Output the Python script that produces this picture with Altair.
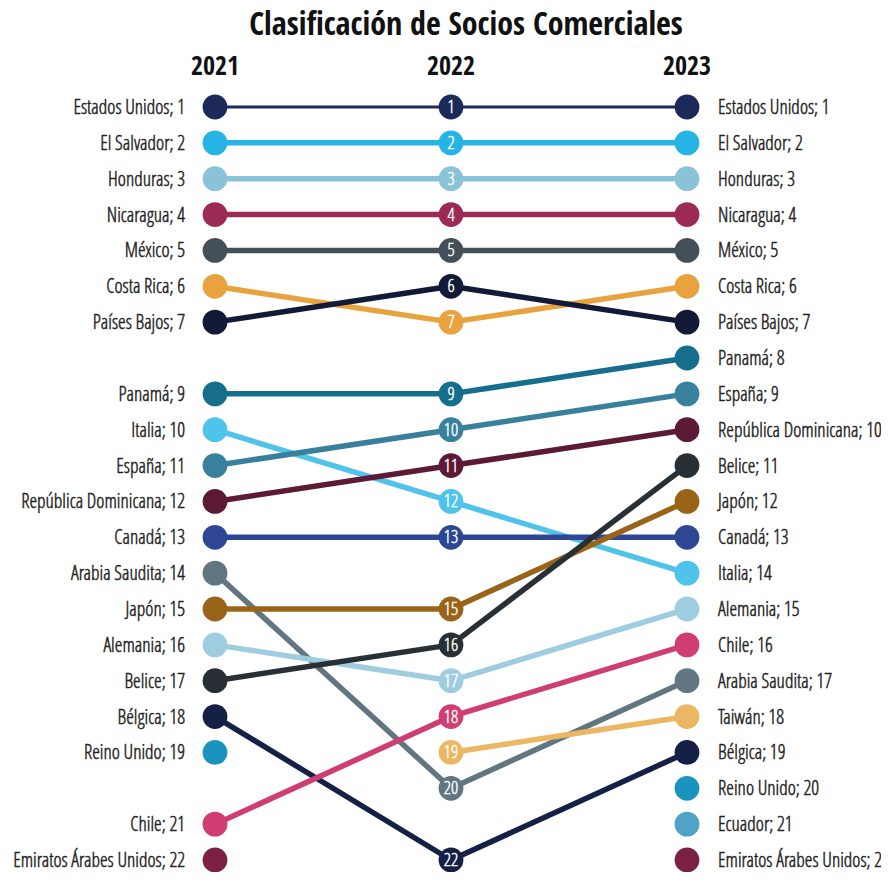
import altair as alt
import pandas as pd

countries = [
    "Estados Unidos", "El Salvador", "Honduras", "Nicaragua", "México",
    "Costa Rica", "Países Bajos", "Panamá", "Italia", "España",
    "República Dominicana", "Canadá", "Arabia Saudita", "Japón", "Alemania",
    "Belice", "Bélgica", "Reino Unido", "Chile", "Emiratos Árabes Unidos",
    "Taiwán", "Ecuador",
]
years = [2021, 2022, 2023]
rank_2021 = [1, 2, 3, 4, 5, 6, 7, 9, 10, 11, 12, 13, 14, 15, 16, 17, 18, 19, 21, 22, None, None]
rank_2022 = [1, 2, 3, 4, 5, 7, 6, 9, 12, 10, 11, 13, 20, 15, 17, 16, 22, None, 18, None, 19, None]
rank_2023 = [1, 2, 3, 4, 5, 6, 7, 8, 14, 9, 10, 13, 17, 12, 15, 11, 19, 20, 16, 22, 18, 21]

palette = [
    "#1c2a5a", "#25b4e3", "#8ac2d8", "#9b2a55", "#434f59",
    "#e8a33e", "#111a36", "#156e8c", "#4fc3ea", "#38809c",
    "#5c1a36", "#2d4795", "#627682", "#9a6418", "#9fcde0",
    "#283036", "#142046", "#1a93bf", "#cf3d73", "#7b2143",
    "#ebb762", "#4fa3c6",
]

FONT_B = "Open Sans Condensed, Liberation Sans Narrow, DejaVu Sans Condensed, sans-serif"
FONT = "Open Sans Condensed Light, Liberation Sans Narrow, sans-serif"
TXT = "#222222"

ranks = [rank_2021, rank_2022, rank_2023]
pts = []
for i, c in enumerate(countries):
    for y, r in zip(years, ranks):
        if r[i] is not None:
            pts.append({"country": c, "year": y, "rank": r[i],
                        "label": f"{c}; {r[i]}", "num": str(r[i])})
points = pd.DataFrame(pts)

segs = []
for i, c in enumerate(countries):
    for k in range(len(years) - 1):
        a, b = ranks[k][i], ranks[k + 1][i]
        if a is not None and b is not None:
            sid = f"{c}-{k}"
            segs.append({"country": c, "seg": sid, "year": years[k], "rank": a})
            segs.append({"country": c, "seg": sid, "year": years[k + 1], "rank": b})
segments = pd.DataFrame(segs)
year_df = pd.DataFrame({"year": years, "ylabel": [str(y) for y in years]})

xs = alt.Scale(domain=[2021, 2023], zero=False, nice=False)
ys = alt.Scale(domain=[1, 22], zero=False, nice=False, reverse=True)
cs = alt.Scale(domain=countries, range=palette)

x_enc = alt.X("year:Q", scale=xs, axis=None)
y_enc = alt.Y("rank:Q", scale=ys, axis=None)

heads = alt.Chart(year_df).mark_text(
    font=FONT_B, fontSize=26, fontWeight="bold", color="#111111",
    baseline="middle", align="center"
).encode(x=x_enc, y=alt.value(-40), text="ylabel:N")

lines = alt.Chart(segments).mark_line().encode(
    x=x_enc, y=y_enc,
    detail="seg:N",
    color=alt.Color("country:N", scale=cs, legend=None),
    strokeWidth=alt.condition(alt.datum.country == "Estados Unidos",
                              alt.value(3), alt.value(5.5)),
)

dots = alt.Chart(points).mark_circle(size=615, opacity=1).encode(
    x=x_enc, y=y_enc,
    color=alt.Color("country:N", scale=cs, legend=None),
)

nums = alt.Chart(points).transform_filter(alt.datum.year == 2022).mark_text(
    font=FONT, fontSize=18, color="white", stroke="white", strokeWidth=0.4,
    baseline="middle", align="center", dy=1
).encode(x=x_enc, y=y_enc, text="num:N")

left = alt.Chart(points).transform_filter(alt.datum.year == 2021).mark_text(
    font=FONT, fontSize=19.5, color=TXT, stroke=TXT, strokeWidth=0.45,
    baseline="middle", align="right", dx=-30, dy=1
).encode(x=x_enc, y=y_enc, text="label:N")

right = alt.Chart(points).transform_filter(alt.datum.year == 2023).mark_text(
    font=FONT, fontSize=19.5, color=TXT, stroke=TXT, strokeWidth=0.45,
    baseline="middle", align="left", dx=31, dy=1
).encode(x=x_enc, y=y_enc, text="label:N")

chart = alt.layer(heads, lines, dots, nums, left, right).properties(
    width=472, height=753,
    autosize=alt.AutoSizeParams(type="none"),
    padding={"left": 207, "top": 99, "right": 194, "bottom": 12},
    title=alt.TitleParams("Clasificación de Socios Comerciales", font=FONT_B,
                          fontSize=32, fontWeight="bold", color="#111111",
                          anchor="middle", frame="group", dx=15, offset=12),
).configure_view(stroke=None)

chart.save("out.html", embed_options={"renderer": "svg", "actions": False})
